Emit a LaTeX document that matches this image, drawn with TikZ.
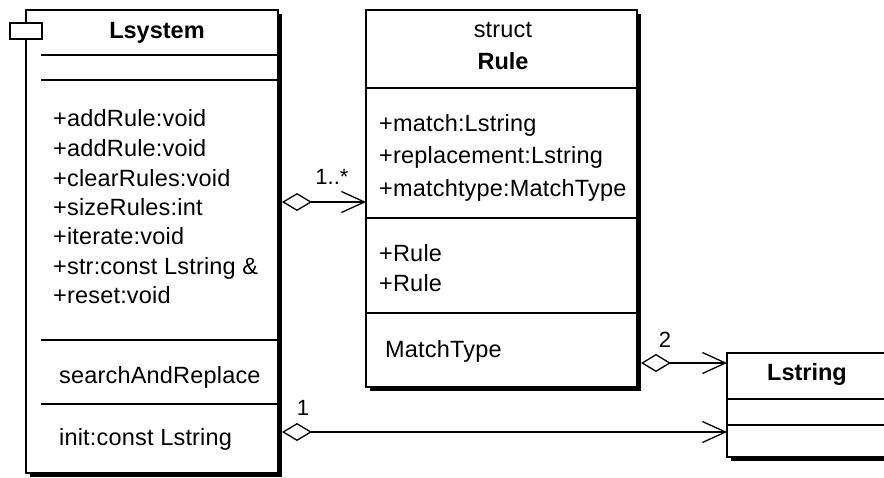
\documentclass[tikz,border=0pt]{standalone}
\usepackage{fontspec}
\setmainfont{Liberation Sans}
\newfontfamily\spacedfont[LetterSpace=0.8]{Liberation Sans}
\usetikzlibrary{arrows.meta}
\begin{document}
\begin{tikzpicture}[x=1pt,y=-1pt,
  box/.style={draw, line width=1.4pt, fill=white, rectangle, inner sep=0pt, outer sep=0pt,
    preaction={fill=black, transform canvas={shift={(4pt,-4pt)}}}},
  txt/.style={anchor=west, inner sep=0pt, font=\spacedfont\fontsize{23.5}{28}\selectfont, text height=17pt, text depth=0pt},
  ttl/.style={inner sep=0pt, font=\bfseries\fontsize{23.5}{28}\selectfont, text height=17pt, text depth=0pt},
  ster/.style={inner sep=0pt, font=\spacedfont\fontsize{23.5}{28}\selectfont, text height=17pt, text depth=0pt},
  mult/.style={inner sep=0pt, font=\fontsize{22}{26}\selectfont},
  sepline/.style={line width=1.4pt},
  agg/.style={line width=1.3pt, {Diamond[open,length=30pt,width=18pt,line width=1.3pt]}-{Straight Barb[length=23pt,width=21pt,line width=1.3pt]}}
]
\useasboundingbox (0,0) rectangle (884,477);
\clip (0,0) rectangle (884,477);

% ---------- Lsystem ----------
\node[box, minimum width=252pt, minimum height=463pt] (lsys) at (152,241.5) {};
\node[draw, line width=1.4pt, fill=white, minimum width=32pt, minimum height=16pt, inner sep=0pt] (icon) at (26,31) {};
\node[ttl] (lsysname) at (157,30) {Lsystem};
\draw[sepline] (41,55) -- (lsys.east |- 0,55);
\draw[sepline] (41,80) -- (lsys.east |- 0,80);
\node[txt] (m1) at (53,118) {+addRule:void};
\node[txt] (m2) at (53,148) {+addRule:void};
\node[txt] (m3) at (53,178) {+clearRules:void};
\node[txt] (m4) at (53,207) {+sizeRules:int};
\node[txt] (m5) at (53,236) {+iterate:void};
\node[txt] (m6) at (53,266) {+str:const Lstring \&};
\node[txt] (m7) at (53,295) {+reset:void};
\draw[sepline] (41,340) -- (lsys.east |- 0,340);
\node[txt] (sr) at (59,375) {searchAndReplace};
\draw[sepline] (41,404) -- (lsys.east |- 0,404);
\node[txt] (ini) at (59,437) {init:const Lstring};

% ---------- Rule ----------
\node[box, minimum width=271pt, minimum height=377pt] (rule) at (501.5,198.5) {};
\node[ster] (rulester) at (503,29) {struct};
\node[ttl] (rulename) at (503,61) {Rule};
\draw[sepline] (rule.west |- 0,88) -- (rule.east |- 0,88);
\node[txt] (a1) at (379,123) {+match:Lstring};
\node[txt] (a2) at (379,155) {+replacement:Lstring};
\node[txt] (a3) at (379,188) {+matchtype:MatchType};
\draw[sepline] (rule.west |- 0,218) -- (rule.east |- 0,218);
\node[txt] (r1) at (379,253) {+Rule};
\node[txt] (r2) at (379,283) {+Rule};
\draw[sepline] (rule.west |- 0,313) -- (rule.east |- 0,313);
\node[txt] (mt) at (385,349) {MatchType};

% ---------- Lstring ----------
\node[box, minimum width=190pt, minimum height=104pt] (lstr) at (822,405) {};
\node[ttl] (lstrname) at (807,372) {Lstring};
\draw[sepline] (lstr.west |- 0,399) -- (lstr.east |- 0,399);
\draw[sepline] (lstr.west |- 0,425) -- (lstr.east |- 0,425);

% ---------- connectors ----------
\draw[agg, shorten <=4pt] (lsys.east |- 0,202) -- (rule.west |- 0,202);
\node[mult] (m1star) at (332,177) {1..*};
\draw[agg, shorten <=4pt] (rule.east |- 0,363) -- (lstr.west |- 0,363);
\node[mult] (mtwo) at (665,340) {2};
\draw[agg, shorten <=4pt] (lsys.east |- 0,432) -- (lstr.west |- 0,432);
\node[mult] (mone) at (303,408) {1};
\end{tikzpicture}
\end{document}
